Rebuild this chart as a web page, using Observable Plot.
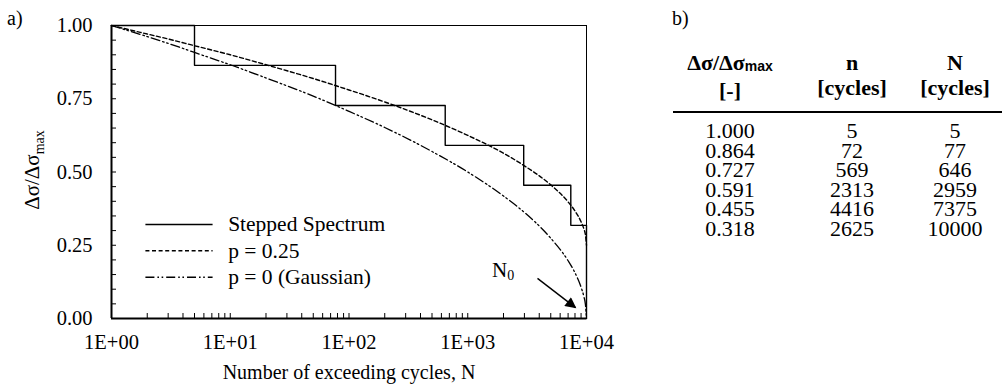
<!DOCTYPE html>
<html><head><meta charset="utf-8">
<script src="https://cdn.jsdelivr.net/npm/d3@7"></script>
<script src="https://cdn.jsdelivr.net/npm/@observablehq/plot@0.6"></script>
<style>
body{margin:0;background:#fff;}
#wrap{position:relative;width:1002px;height:388px;font-family:"Liberation Serif","Times New Roman",serif;color:#000;overflow:hidden;}
#chart{position:absolute;left:0;top:0;}
.lbl{position:absolute;font-size:20px;line-height:20px;white-space:nowrap;}
.col{position:absolute;width:120px;text-align:center;font-size:22px;line-height:19.6px;white-space:nowrap;}
.hd{position:absolute;width:130px;text-align:center;font-weight:bold;font-size:22px;line-height:25px;white-space:nowrap;}
.hd sub{font-family:"Liberation Sans",Arial,sans-serif;font-size:14px;vertical-align:baseline;position:relative;top:1px;}
#rule{position:absolute;left:673px;top:111px;width:329px;height:2px;background:#000;}
</style></head><body>
<div id="wrap"><div id="chart"></div></div>
<script>
// ---- data ----
const levels  = [1.000, 0.864, 0.727, 0.591, 0.455, 0.318];
const nCycles = [5, 72, 569, 2313, 4416, 2625];
const NCycles = [5, 77, 646, 2959, 7375, 10000];
const curveN  = [1, 2, 3, 5, 10, 20, 50, 100, 200, 500, 1000, 2000, 3000, 5000, 7000, 8000, 9000, 9500, 9800, 10000];
const p025    = [1.000, 0.971, 0.954, 0.931, 0.900, 0.866, 0.819, 0.780, 0.739, 0.678, 0.625, 0.564, 0.521, 0.456, 0.398, 0.367, 0.330, 0.306, 0.285, 0.250];
const gauss   = [1.000, 0.962, 0.939, 0.908, 0.866, 0.821, 0.759, 0.707, 0.652, 0.570, 0.500, 0.418, 0.362, 0.274, 0.197, 0.156, 0.107, 0.075, 0.047, 0.000];
const xTicks = [1, 10, 100, 1000, 10000];
const xTickLabels = ["1E+00", "1E+01", "1E+02", "1E+03", "1E+04"];
const yTicks = [0, 0.25, 0.5, 0.75, 1];
const yTickLabels = ["0.00", "0.25", "0.50", "0.75", "1.00"];
const seriesNames = ["Stepped Spectrum", "p = 0.25", "p = 0 (Gaussian)"];
const xTitle = "Number of exceeding cycles, N";
const tableHeads = [["Δσ/Δσ<sub>max</sub>", "[-]"], ["n", "[cycles]"], ["N", "[cycles]"]];

// ---- derived tables ----
const stepPts = [{N: 1, v: levels[0]}].concat(NCycles.map((N, i) => ({N, v: i + 1 < levels.length ? levels[i + 1] : 0})));
const p025Pts = curveN.map((N, i) => ({N, v: p025[i]}));
const gaussPts = curveN.map((N, i) => ({N, v: gauss[i]}));
const xMinor = [1, 10, 100, 1000].flatMap(d => d3.range(1, 10).map(k => d * k)).concat([10000]);
const yMinor = d3.range(0, 21).map(i => i * 0.05);

const W = 640, H = 388;
const mL = 111, mT = 25, mR = W - 586, mB = H - 318;
const fw = W - mL - mR, fh = H - mT - mB;

// legend layout (in data units)
const legX1 = 1.93, legX2 = 7.1, legTX = 9.6;
const legY = [0.321, 0.231, 0.141];
const dashes = [null, "4,2.6", "9,3,1.6,2.6,1.6,3"];

const font = "'Liberation Serif','Times New Roman',serif";
const plot = Plot.plot({
  width: W, height: H,
  marginLeft: mL, marginTop: mT, marginRight: mR, marginBottom: mB,
  style: {fontFamily: font, fontSize: "20px", color: "#000", background: "transparent", overflow: "visible"},
  x: {type: "log", domain: [1, 10000]},
  y: {domain: [0, 1]},
  marks: [
    Plot.frame({stroke: "#000", strokeWidth: 1}),
    Plot.tickX(xMinor, {x: d => d, insetTop: fh - 5, stroke: "#000", strokeWidth: 1}),
    Plot.tickY(yMinor, {y: d => d, insetRight: fw - 5, stroke: "#000", strokeWidth: 1}),
    Plot.ruleY([0], {stroke: "#000", strokeWidth: 2}),
    Plot.ruleX([1], {stroke: "#000", strokeWidth: 2}),
    Plot.axisX(xTicks, {tickSize: 0, tickPadding: 16, tickFormat: d => xTickLabels[xTicks.indexOf(d)], label: null, fontSize: 20.5}),
    Plot.axisY(yTicks, {tickSize: 0, tickPadding: 19, tickFormat: d => yTickLabels[yTicks.indexOf(d)], label: null, fontSize: 20.5}),
    Plot.text([xTitle], {frameAnchor: "bottom", dy: 60, fontSize: 20}),
    Plot.line(stepPts, {x: "N", y: "v", curve: "step-after", stroke: "#000", strokeWidth: 1.4}),
    Plot.line(p025Pts, {x: "N", y: "v", curve: "monotone-x", stroke: "#000", strokeWidth: 1.4, strokeDasharray: dashes[1]}),
    Plot.line(gaussPts, {x: "N", y: "v", curve: "monotone-x", stroke: "#000", strokeWidth: 1.3, strokeDasharray: dashes[2]}),
    // legend
    ...seriesNames.map((s, i) => Plot.link([s], {x1: legX1, x2: legX2, y1: legY[i], y2: legY[i], stroke: "#000", strokeWidth: 1.4, strokeDasharray: dashes[i] || undefined})),
    Plot.text(seriesNames, {x: legTX, y: (d, i) => legY[i], text: d => d, textAnchor: "start", fontSize: 21.5}),
    // N0 annotation
    Plot.text(["N"], {x: 2150, y: 0.165, text: d => d, textAnchor: "end", fontSize: 21}),
    Plot.text(["0"], {x: 2150, y: 0.165, text: d => d, textAnchor: "start", dy: 5, fontSize: 14}),
    Plot.link(["arrow"], {x1: 3866, y1: 0.137, x2: 8075, y2: 0.037, stroke: "#000", strokeWidth: 1.4})
  ]
});

// arrow head (filled)
const svg = d3.select(plot);
const defs = svg.append("defs");
defs.append("marker").attr("id", "ah").attr("viewBox", "0 0 10 10").attr("refX", 9).attr("refY", 5)
  .attr("markerUnits", "userSpaceOnUse").attr("markerWidth", 14).attr("markerHeight", 11).attr("orient", "auto")
  .append("path").attr("d", "M0,0L10,5L0,10z").attr("fill", "#000");
svg.selectAll('g[aria-label="link"]').filter((d, i, n) => i === n.length - 1).select("path").attr("marker-end", "url(#ah)");

// y axis title with subscript
const yt = svg.append("text").attr("transform", "translate(39,170) rotate(-90)").attr("text-anchor", "middle")
  .attr("font-family", font).attr("font-size", 21).attr("fill", "#000");
yt.append("tspan").text("Δσ/Δσ");
yt.append("tspan").attr("font-size", 14).attr("dy", 5).text("max");

document.getElementById("chart").appendChild(plot);

// ---- panel labels and table ----
const wrap = document.getElementById("wrap");
function add(cls, html, left, top, w) {
  const d = document.createElement("div");
  d.className = cls; d.innerHTML = html;
  d.style.left = (left - w / 2) + "px"; d.style.top = top + "px";
  wrap.appendChild(d);
  return d;
}
add("lbl", "a)", 7, 8, 0);
add("lbl", "b)", 672, 8, 0);
const colC = [730, 852, 955];
tableHeads.forEach((h, j) => add("hd", h.join("<br>"), colC[j], 50, 130));
const rule = document.createElement("div"); rule.id = "rule"; wrap.appendChild(rule);
const cols = [levels.map(v => v.toFixed(3)), nCycles.map(String), NCycles.map(String)];
cols.forEach((c, j) => add("col", c.join("<br>"), colC[j], 121, 120));
</script>
</body></html>
